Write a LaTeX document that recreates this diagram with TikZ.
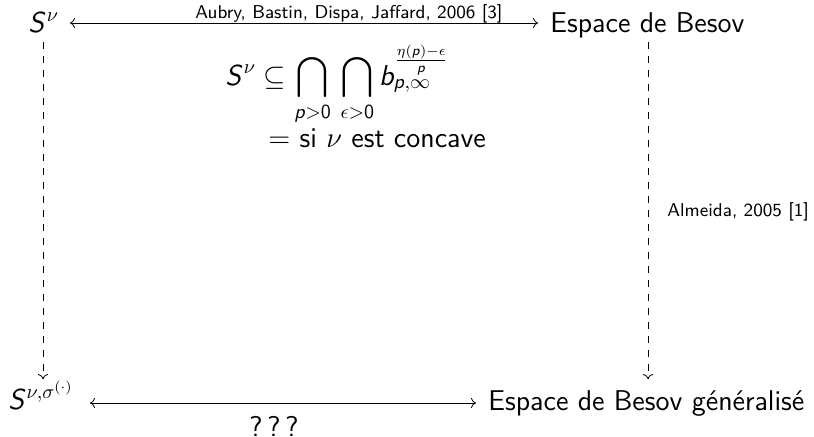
\documentclass[tikz,border=0pt]{standalone}
\usepackage{amsmath,amssymb}
\usetikzlibrary{arrows.meta}
\DeclareSymbolFont{sfletters}{OT1}{cmss}{m}{sl}
\DeclareSymbolFont{sfdigits}{OT1}{cmss}{m}{n}
\DeclareMathSymbol{S}{\mathalpha}{sfletters}{`S}
\DeclareMathSymbol{p}{\mathalpha}{sfletters}{`p}
\DeclareMathSymbol{b}{\mathalpha}{sfletters}{`b}
\DeclareMathSymbol{0}{\mathalpha}{sfdigits}{`0}
\renewcommand{\familydefault}{\sfdefault}
\tikzset{
  main/.style={inner sep=0pt, anchor=base west, font=\fontsize{14.3}{17}\selectfont},
  lbl/.style={inner sep=0pt, anchor=base west, font=\fontsize{9.3}{11}\selectfont},
  conn/.style={{To[length=2.5pt,width=5pt]}-{To[length=2.5pt,width=5pt]}, line width=0.4pt},
  dconn/.style={-{To[length=2.5pt,width=5pt]}, dash pattern=on 3.5pt off 3.5pt, line width=0.4pt}
}
\begin{document}
\begin{tikzpicture}[x=0.5pt,y=-0.5pt]
\useasboundingbox (0,0) rectangle (814,436);
\node[main] (SL) at (28,32) {$S^{\nu}$};
\node[main] (EB) at (550,32) {Espace de Besov};
\node[main] (SB) at (8,409) {$S^{\nu,\sigma^{(\cdot)}}$};
\node[main] (EG) at (488,410) {Espace de Besov généralisé};
\coordinate (t1) at (70,23);
\coordinate (t2) at (538,23);
\coordinate (b1) at (90,403);
\coordinate (b2) at (476,403);
\draw[conn] (t1) -- (t2);
\node[lbl] (LA) at (195,18) {Aubry, Bastin, Dispa, Jaffard, 2006 [3]};
\draw[conn] (b1) -- (b2);
\node[main] (Q) at (249,436) {?\,?\,?};
\coordinate (l1) at (43,42);
\coordinate (l2) at (43,379);
\coordinate (r1) at (648,42);
\coordinate (r2) at (648,379);
\draw[dconn] (l1) -- (l2);
\draw[dconn] (r1) -- (r2);
\node[lbl] (LB) at (667,216) {Almeida, 2005 [1]};
\node[main] (F1) at (225,85) {$\displaystyle S^{\nu}\subseteq\bigcap_{p>0}\,\bigcap_{\epsilon>0} b_{p,\infty}^{\frac{\eta(p)-\epsilon}{p}}$};
\node[main] (F2) at (268,147) {$=$ si $\nu$ est concave};
\end{tikzpicture}
\end{document}
